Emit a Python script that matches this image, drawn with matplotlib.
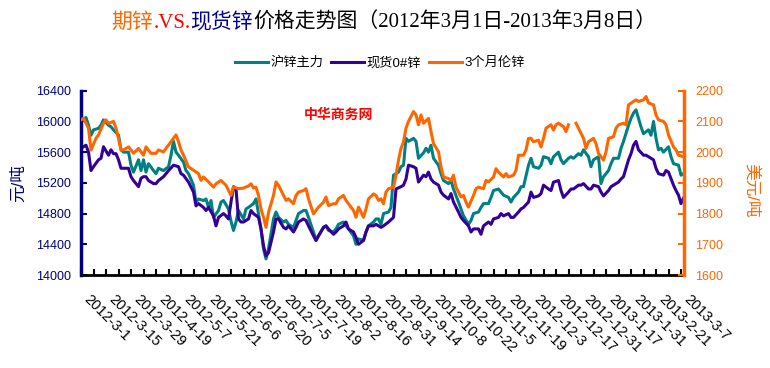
import numpy as np
import matplotlib
matplotlib.use("Agg")
import matplotlib.pyplot as plt
from matplotlib.transforms import ScaledTranslation

plt.rcParams['font.family'] = ['Liberation Sans', 'Noto Sans CJK SC']

# trading-day index (0 = 2012-3-1) and prices
shfe_day = [0, 2, 3, 4, 5, 7, 8, 9, 11, 12, 13, 15, 16, 17, 19, 20, 21, 23, 24, 25, 26, 27, 29, 30, 31, 33, 35, 36, 37, 38,
            39, 41, 42, 43, 45, 46, 47, 49, 50, 51, 52, 53, 55, 56, 57, 59, 60, 61, 62, 63, 65, 66, 67, 69, 70, 72, 73, 74, 75, 77,
            78, 79, 81, 82, 83, 85, 86, 87, 89, 90, 91, 93, 94, 95, 97, 98, 99, 101, 102, 103, 105, 106, 107, 109, 110, 111, 113, 114, 115, 117,
            118, 119, 120, 121, 123, 124, 125, 127, 128, 129, 130, 131, 133, 134, 135, 137, 138, 139, 140, 141, 143, 144, 145, 147, 148, 149, 151, 152, 153, 155,
            156, 157, 159, 160, 161, 163, 164, 165, 167, 168, 169, 171, 172, 173, 175, 176, 177, 179, 180, 181, 183, 184, 185, 187, 188, 189, 191, 192, 193, 195,
            196, 197, 199, 200, 201, 203, 204, 205, 207, 208, 209, 211, 212, 213, 215, 216, 217, 219, 220, 221, 222, 223, 224, 225, 227, 228, 229, 230, 231, 232,
            233, 235, 236, 237, 239, 240, 241]
shfe_val = [16020, 16050, 15950, 15820, 15890, 15910, 15950, 16020, 15950, 15930, 15890, 15820, 15630, 15600, 15600, 15430, 15340, 15500, 15360, 15500,
            15340, 15450, 15360, 15320, 15390, 15360, 15410, 15560, 15740, 15600, 15560, 15470, 15360, 15320, 15170, 14950, 14990, 14970, 14990, 14880,
            14970, 14750, 14840, 14950, 14970, 14860, 14700, 14580, 14690, 14840, 14730, 14860, 14880, 14930, 14990, 14600, 14340, 14210, 14340, 14730,
            14820, 14750, 14690, 14710, 14660, 14620, 14710, 14800, 14840, 14840, 14750, 14560, 14450, 14510, 14620, 14640, 14580, 14560, 14600, 14660,
            14690, 14640, 14600, 14510, 14400, 14470, 14450, 14560, 14640, 14690, 14730, 14730, 14660, 14800, 14820, 14880, 15300, 15340, 15410, 15430,
            15780, 15740, 15780, 15740, 15520, 15590, 15650, 15600, 15690, 15520, 15430, 15320, 15230, 15190, 15230, 15120, 14950, 14860, 14770, 14660,
            14710, 14800, 14820, 14880, 14930, 14930, 15010, 15100, 15120, 15080, 15040, 15010, 14950, 15010, 15080, 15150, 15150, 15430, 15520, 15410,
            15390, 15430, 15540, 15520, 15450, 15540, 15600, 15500, 15450, 15520, 15540, 15520, 15580, 15560, 15630, 15540, 15410, 15500, 15540, 15190,
            15280, 15360, 15450, 15520, 15520, 15650, 15740, 15950, 16040, 16110, 16150, 16040, 15930, 15840, 15890, 15820, 16000, 15780, 15630, 15650,
            15600, 15670, 15540, 15450, 15430, 15300, 15320]

spot_day = [0, 2, 3, 4, 5, 7, 8, 9, 11, 12, 13, 14, 15, 16, 17, 19, 20, 21, 23, 24, 25, 26, 27, 29, 30, 31, 33, 34, 35, 37,
            39, 40, 41, 43, 45, 46, 47, 49, 50, 51, 53, 54, 55, 57, 58, 59, 60, 61, 62, 63, 64, 65, 67, 68, 69, 71, 72, 73, 74, 75,
            77, 78, 79, 81, 82, 83, 85, 86, 87, 89, 90, 91, 93, 94, 95, 97, 98, 99, 101, 102, 103, 105, 106, 107, 109, 110, 111, 113, 114, 115,
            117, 118, 119, 120, 121, 123, 125, 126, 128, 129, 130, 131, 133, 134, 135, 137, 138, 139, 140, 141, 143, 144, 145, 147, 148, 149, 151, 152, 153, 155,
            156, 157, 159, 160, 161, 163, 164, 165, 167, 168, 169, 171, 172, 173, 175, 176, 177, 179, 180, 181, 183, 184, 185, 187, 188, 189, 191, 192, 193, 195,
            196, 197, 199, 200, 201, 203, 204, 205, 207, 208, 209, 211, 212, 213, 215, 216, 217, 219, 220, 221, 222, 223, 225, 226, 227, 229, 230, 231, 233, 234,
            235, 237, 238, 239, 240, 241]
spot_val = [15650, 15690, 15600, 15360, 15410, 15500, 15520, 15670, 15560, 15630, 15580, 15580, 15500, 15390, 15390, 15390, 15280, 15230, 15150, 15260,
            15280, 15280, 15230, 15190, 15190, 15230, 15280, 15320, 15360, 15430, 15410, 15320, 15300, 15210, 15080, 14900, 14930, 14880, 14840, 14880,
            14770, 14640, 14750, 14800, 14770, 14730, 14950, 15150, 15120, 14730, 14690, 14690, 14730, 14840, 14800, 14750, 14600, 14380, 14250, 14290,
            14560, 14730, 14730, 14620, 14600, 14640, 14560, 14620, 14690, 14730, 14710, 14640, 14510, 14450, 14510, 14620, 14640, 14600, 14530, 14560,
            14600, 14640, 14690, 14600, 14560, 14490, 14400, 14450, 14560, 14640, 14640, 14660, 14640, 14620, 14640, 14690, 14750, 15120, 15150, 15170,
            15250, 15430, 15410, 15390, 15210, 15300, 15280, 15340, 15250, 15210, 15170, 15080, 15040, 14990, 15060, 14950, 14820, 14750, 14710, 14640,
            14560, 14600, 14600, 14530, 14640, 14690, 14660, 14730, 14750, 14800, 14770, 14800, 14750, 14750, 14820, 14860, 14880, 14950, 15080, 15010,
            15030, 15060, 15170, 15120, 15100, 15210, 15230, 15100, 15010, 15080, 15120, 15120, 15170, 15170, 15190, 15120, 15120, 15170, 15150, 15080,
            15030, 15100, 15150, 15170, 15210, 15250, 15280, 15500, 15580, 15690, 15740, 15630, 15560, 15560, 15540, 15500, 15390, 15320, 15300, 15360,
            15340, 15170, 15100, 15040, 14930, 15000]

lme_day = [0, 1, 3, 4, 6, 7, 9, 10, 11, 13, 14, 15, 16, 17, 19, 20, 21, 23, 25, 26, 28, 30, 31, 33, 34, 35, 37, 38, 39, 40,
           41, 43, 45, 47, 48, 49, 51, 53, 54, 56, 58, 60, 61, 63, 65, 67, 68, 69, 70, 71, 72, 73, 74, 75, 77, 78, 79, 81, 82, 83,
           85, 86, 87, 89, 90, 91, 93, 94, 95, 97, 98, 99, 101, 102, 103, 105, 106, 107, 109, 110, 111, 113, 114, 115, 117, 118, 119, 120, 121, 122,
           123, 125, 126, 127, 128, 129, 130, 131, 133, 134, 135, 136, 137, 139, 140, 141, 143, 144, 145, 147, 148, 149, 150, 152, 153, 154, 155, 157, 158, 159,
           161, 162, 163, 165, 166, 167, 169, 170, 171, 173, 174, 175, 177, 178, 179, 180, 181, 183, 184, 185, 186, 188, 189, 190, 191, 193, 194, 195, 197, 198,
           199, 201, 202, 203, 205, 206, 207, 209, 210, 211, 213, 214, 215, 217, 218, 219, 221, 222, 223, 225, 226, 227, 229, 230, 231, 233, 234, 235, 237, 238,
           239, 241]
lme_val = [2105, 2110, 2078, 2007, 2045, 2056, 2094, 2105, 2094, 2100, 2078, 2045, 2007, 2007, 2017, 2007, 1996, 2012, 1990, 2017,
           1996, 1996, 2007, 2001, 2012, 2023, 2045, 2056, 2034, 2007, 1990, 1952, 1941, 1930, 1908, 1919, 1903, 1886, 1897, 1908,
           1892, 1859, 1886, 1881, 1883, 1890, 1897, 1883, 1886, 1859, 1815, 1788, 1755, 1804, 1859, 1903, 1892, 1859, 1843, 1848,
           1832, 1859, 1870, 1875, 1881, 1848, 1799, 1810, 1821, 1837, 1854, 1826, 1832, 1832, 1848, 1859, 1843, 1832, 1810, 1788,
           1821, 1788, 1815, 1848, 1864, 1859, 1843, 1848, 1832, 1870, 1881, 1886, 1925, 1974, 2012, 2034, 2078, 2100, 2132, 2121,
           2089, 2121, 2094, 2110, 2067, 2028, 2001, 1952, 1919, 1914, 1908, 1925, 1886, 1854, 1859, 1837, 1821, 1859, 1881, 1886,
           1881, 1908, 1903, 1919, 1946, 1935, 1919, 1930, 1919, 1925, 1941, 1990, 1990, 2007, 2045, 2045, 2034, 2039, 2017, 2045,
           2078, 2089, 2072, 2089, 2094, 2083, 2067, 2089, np.nan, 2094, 2078, 2045, 2012, 2034, 2045, 2028, 1996, 1974, 2001, 2045,
           2050, 2078, 2089, 2094, 2089, 2154, 2165, 2170, 2165, 2170, 2181, 2160, 2154, 2121, 2105, 2100, 2089, 2056, 2017, 2007,
           1990, 1985]

date_labels = ['2012-3-1', '2012-3-15', '2012-3-29', '2012-4-19', '2012-5-7', '2012-5-21', '2012-6-6', '2012-6-20',
               '2012-7-5', '2012-7-19', '2012-8-2', '2012-8-16', '2012-8-31', '2012-9-14', '2012-10-8', '2012-10-22',
               '2012-11-5', '2012-11-19', '2012-12-3', '2012-12-17', '2012-12-31', '2013-1-17', '2013-1-31', '2013-2-21',
               '2013-3-7']
series_names = ['沪锌主力', '现货0#锌', '3个月伦锌']

navy = '#000080'
orange = '#FF6600'

fig = plt.figure(figsize=(7.7, 3.68), dpi=100)
ax = fig.add_axes([81 / 770, 1 - 275 / 368, (684 - 81) / 770, (275 - 90.7) / 368])
ax2 = ax.twinx()

l1, = ax.plot(shfe_day, shfe_val, color='#008080', lw=2.2)
l2, = ax.plot(spot_day, spot_val, color='#330099', lw=2.2)
l3, = ax2.plot(lme_day, lme_val, color=orange, lw=2.2)

ax.set_xlim(0, 241.2)
ax.set_ylim(14000, 16400)
ax2.set_ylim(1600, 2200)
ax.set_yticks(range(14000, 16401, 400))
ax2.set_yticks(range(1600, 2201, 100))
ax.set_xticks(range(0, 241, 10))
ax.set_xticks(range(5, 241, 10), minor=True)
ax.set_xticklabels(date_labels, rotation=-45, ha='left', va='center', rotation_mode='anchor', fontsize=10.5)

ax.tick_params(axis='x', which='both', direction='in', length=4, width=1.5, color='black', pad=16)
ax.tick_params(axis='y', direction='in', length=4, width=1.5, color=navy, labelcolor=navy, labelsize=9, pad=7)
ax2.tick_params(axis='y', direction='in', length=4, width=1.5, color=orange, labelcolor=orange, labelsize=9, pad=8)

# nudge the date labels a little to the right (after tick_params, which resets transforms)
shift = ScaledTranslation(5 / 100, 0, fig.dpi_scale_trans)
for tick in ax.xaxis.get_major_ticks():
    tick.label1.set_transform(tick.label1.get_transform() + shift)

for s in ['top', 'right']:
    ax.spines[s].set_visible(False)
for s in ['top', 'left', 'bottom']:
    ax2.spines[s].set_visible(False)
ax.spines['left'].set_color(navy)
ax.spines['left'].set_linewidth(2.5)
ax.spines['bottom'].set_linewidth(2)
ax2.spines['right'].set_color(orange)
ax2.spines['right'].set_linewidth(2.5)

# side labels and watermark
fig.text(18 / 770, 1 - 183 / 368, '元/吨', rotation=90, color=navy, fontsize=12, ha='center', va='center')
fig.text(752 / 770, 1 - 190 / 368, '美元/吨', rotation=-90, color=orange, fontsize=12, ha='center', va='center')
fig.text(338 / 770, 1 - 115 / 368, '中华商务网', color='red', fontsize=10, fontweight='bold', ha='center', va='center')

fig.legend([l1, l2, l3], series_names, loc='center', bbox_to_anchor=(380 / 770, 1 - 63 / 368), ncol=3,
           frameon=False, fontsize=9.5, handlelength=2.5, handletextpad=0.2, columnspacing=0.6)

# multi-coloured title
parts = [('期锌', orange), ('.VS.', '#FF0000'), ('现货锌', '#000099'),
         ('价格走势图（2012年3月1日-2013年3月8日）', 'black')]
r = fig.canvas.get_renderer()
texts = []
for s, c in parts:
    texts.append(fig.text(0, 1 - 23 / 368, s, color=c, fontsize=15, ha='left', va='center', fontweight='medium',
                          family=['Liberation Serif', 'Noto Sans CJK SC']))
widths = [t.get_window_extent(r).width / fig.bbox.width for t in texts]
x = 384 / 770 - sum(widths) / 2
for t, w in zip(texts, widths):
    t.set_x(x)
    x += w

fig.savefig('out.png', dpi=100)
